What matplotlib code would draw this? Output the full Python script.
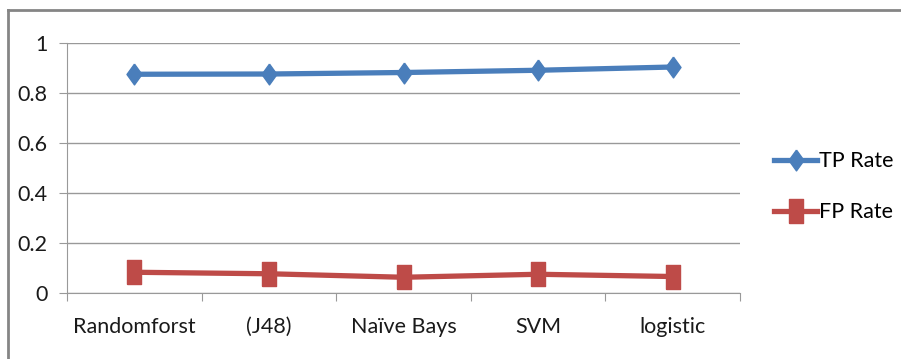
import matplotlib.pyplot as plt
from matplotlib.lines import Line2D

categories = ["Randomforst", "(J48)", "Naïve Bays", "SVM", "logistic"]
tp_rate = [0.875, 0.876, 0.882, 0.891, 0.904]
fp_rate = [0.083, 0.077, 0.063, 0.075, 0.066]
y_ticks = [0, 0.2, 0.4, 0.6, 0.8, 1]
y_labels = ["0", "0.2", "0.4", "0.6", "0.8", "1"]

plt.rcParams['font.family'] = ['Lato', 'DejaVu Sans']

# tall diamond and tall square markers
diamond = [(0, 1), (0.72, 0), (0, -1), (-0.72, 0), (0, 1)]
rect = [(-0.62, -1), (0.62, -1), (0.62, 1), (-0.62, 1), (-0.62, -1)]

fig = plt.figure(figsize=(9.01, 3.59), dpi=100)
# chart-area frame
fig.add_artist(Line2D([0.009, 0.009], [0, 0.972], color='#858585', lw=2))
fig.add_artist(Line2D([0.009, 1.0], [0.972, 0.972], color='#858585', lw=2))

ax = fig.add_axes([0.0744, 0.1838, 0.7469, 0.6964])
x = list(range(len(categories)))
ax.plot(x, tp_rate, color='#4a7ebb', lw=3.8, marker=diamond, ms=15, label='TP Rate')
ax.plot(x, fp_rate, color='#be4b48', lw=3.8, marker=rect, ms=17, label='FP Rate')

ax.set_xlim(-0.5, len(categories) - 0.5)
ax.set_ylim(0, 1)
ax.set_yticks(y_ticks)
ax.set_yticklabels(y_labels, fontsize=15.5, color='#1a1a1a')
ax.set_xticks([i + 0.5 for i in range(-1, len(categories))])
ax.set_xticklabels([])
ax.set_xticks(x, minor=True)
ax.set_xticklabels(categories, minor=True, fontsize=15.5, color='#1a1a1a')
ax.tick_params(axis='x', which='minor', length=0, pad=17)
ax.tick_params(axis='x', which='major', length=6, color='#999999')
ax.tick_params(axis='y', length=6, color='#999999', pad=8)
ax.grid(axis='y', color='#999999', lw=1)
ax.set_axisbelow(True)
for s in ['top', 'right']:
    ax.spines[s].set_visible(False)
ax.spines['left'].set_color('#999999')
ax.spines['bottom'].set_color('#999999')

ax.legend(loc='center left', bbox_to_anchor=(1.022, 0.425), frameon=False,
          fontsize=15.5, handlelength=2.0, handletextpad=0.1, labelspacing=1.45)

fig.savefig('out.png', dpi=100)
